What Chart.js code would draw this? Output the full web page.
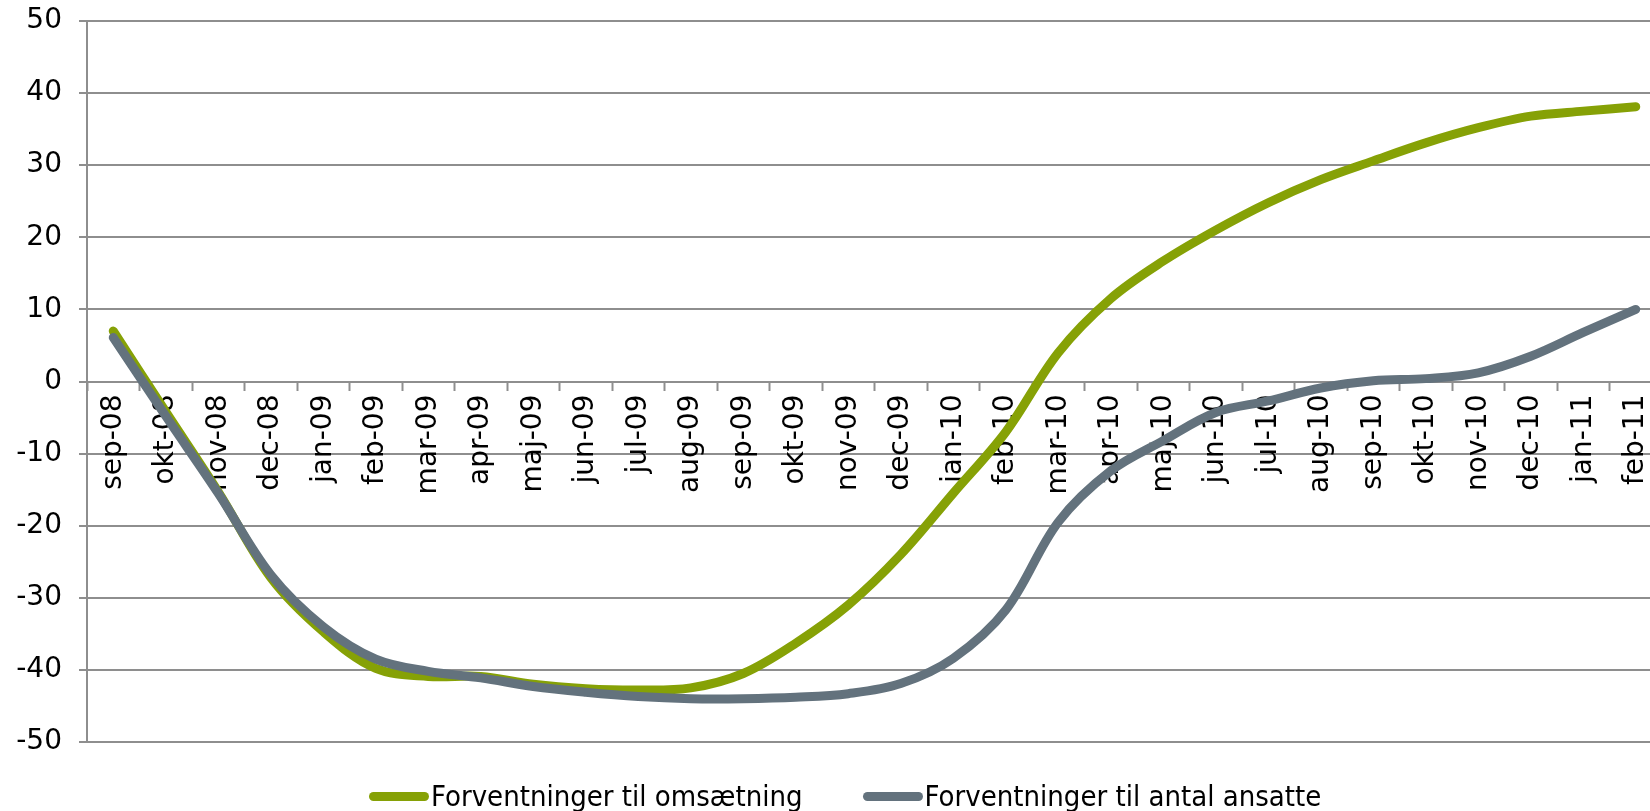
<!DOCTYPE html>
<html lang="da">
<head>
<meta charset="utf-8">
<title>Forventninger</title>
<script src="https://cdn.jsdelivr.net/npm/chart.js@4.4.1/dist/chart.umd.min.js"></script>
<style>
  html, body { margin: 0; padding: 0; background: #fff; overflow: hidden; }
  #wrap { position: absolute; left: 0; top: 0; width: 1700px; height: 811px; }
  #legend {
    position: absolute; left: 369px; top: 779px; height: 34px;
    display: flex; align-items: center; gap: 60px;
    font-family: "DejaVu Sans Condensed", "DejaVu Sans", sans-serif;
    font-stretch: condensed; font-size: 29px; color: #000;
  }
  .item { display: flex; align-items: center; white-space: nowrap; }
  .mark { display: inline-block; width: 60px; height: 9px; border-radius: 5px; margin-right: 2px; }
</style>
</head>
<body>
<div id="wrap">
  <canvas id="chart" width="1700" height="811"></canvas>
  <div id="legend"></div>
</div>
<script>
// --- DATA ---
const months = ['sep-08', 'okt-08', 'nov-08', 'dec-08', 'jan-09', 'feb-09', 'mar-09', 'apr-09', 'maj-09', 'jun-09',
  'jul-09', 'aug-09', 'sep-09', 'okt-09', 'nov-09', 'dec-09', 'jan-10', 'feb-10', 'mar-10', 'apr-10',
  'maj-10', 'jun-10', 'jul-10', 'aug-10', 'sep-10', 'okt-10', 'nov-10', 'dec-10', 'jan-11', 'feb-11'];

const omsaetning = [7, -4.2, -15.3, -27.2, -34.7, -39.8, -40.9, -40.9, -42.0, -42.6,
  -42.8, -42.5, -40.5, -36.3, -31.0, -24.0, -15.5, -7.0, 4.0, 11.5,
  16.7, 21.0, 24.8, 28.0, 30.6, 33.1, 35.2, 36.8, 37.5, 38.1];

const ansatte = [6.1, -4.8, -15.5, -26.8, -34.0, -38.5, -40.2, -41.1, -42.3, -43.1,
  -43.7, -44.0, -44.0, -43.8, -43.3, -41.9, -38.4, -31.7, -19.5, -12.4,
  -8.2, -4.3, -2.7, -0.9, 0.1, 0.4, 1.2, 3.5, 6.8, 10.0];

const yTicks = [-50, -40, -30, -20, -10, 0, 10, 20, 30, 40, 50];

const seriesNames = ['Forventninger til omsætning', 'Forventninger til antal ansatte'];
const seriesColors = ['#86A106', '#63727D'];

// --- CHART ---
const gridColor = '#8e8e8e';
const tickFont = { family: 'DejaVu Sans', size: 28 };

const chart = new Chart(document.getElementById('chart'), {
  type: 'line',
  data: {
    labels: months,
    datasets: [
      { label: seriesNames[0], data: omsaetning, borderColor: seriesColors[0], backgroundColor: seriesColors[0], order: 1 },
      { label: seriesNames[1], data: ansatte, borderColor: seriesColors[1], backgroundColor: seriesColors[1], order: 0 }
    ].map(ds => Object.assign(ds, {
      borderWidth: 9, pointRadius: 0, pointHoverRadius: 0, tension: 0.35,
      borderCapStyle: 'round', borderJoinStyle: 'round', fill: false
    }))
  },
  options: {
    responsive: false, animation: false, devicePixelRatio: 1,
    layout: { padding: { top: 21, right: 38, bottom: 69, left: 0 } },
    plugins: { legend: { display: false }, tooltip: { enabled: false } },
    scales: {
      x: {
        position: { y: 0 },
        offset: true,
        grid: { drawOnChartArea: false, drawTicks: true, tickLength: 8, tickColor: gridColor, tickWidth: 2, offset: true },
        border: { display: true, color: gridColor, width: 2 },
        ticks: { color: '#000', font: tickFont, minRotation: 90, maxRotation: 90, autoSkip: false, padding: 5 }
      },
      y: {
        min: -50, max: 50,
        // fixed axis width; no extra top/bottom padding so the plot can reach the top
        afterFit: s => { s.width = 87; s.paddingTop = 0; s.paddingBottom = 0; },
        afterBuildTicks: s => { s.ticks = yTicks.map(v => ({ value: v })); },
        grid: { color: gridColor, lineWidth: 2, tickLength: 8, drawTicks: true },
        border: { display: true, color: gridColor, width: 2 },
        ticks: { color: '#000', font: tickFont, padding: 17 }
      }
    }
  }
});

// --- LEGEND ---
const legendEl = document.getElementById('legend');
seriesNames.forEach((name, i) => {
  const item = document.createElement('div');
  item.className = 'item';
  item.innerHTML = `<span class="mark" style="background:${seriesColors[i]}"></span><span>${name}</span>`;
  legendEl.appendChild(item);
});
</script>
</body>
</html>
